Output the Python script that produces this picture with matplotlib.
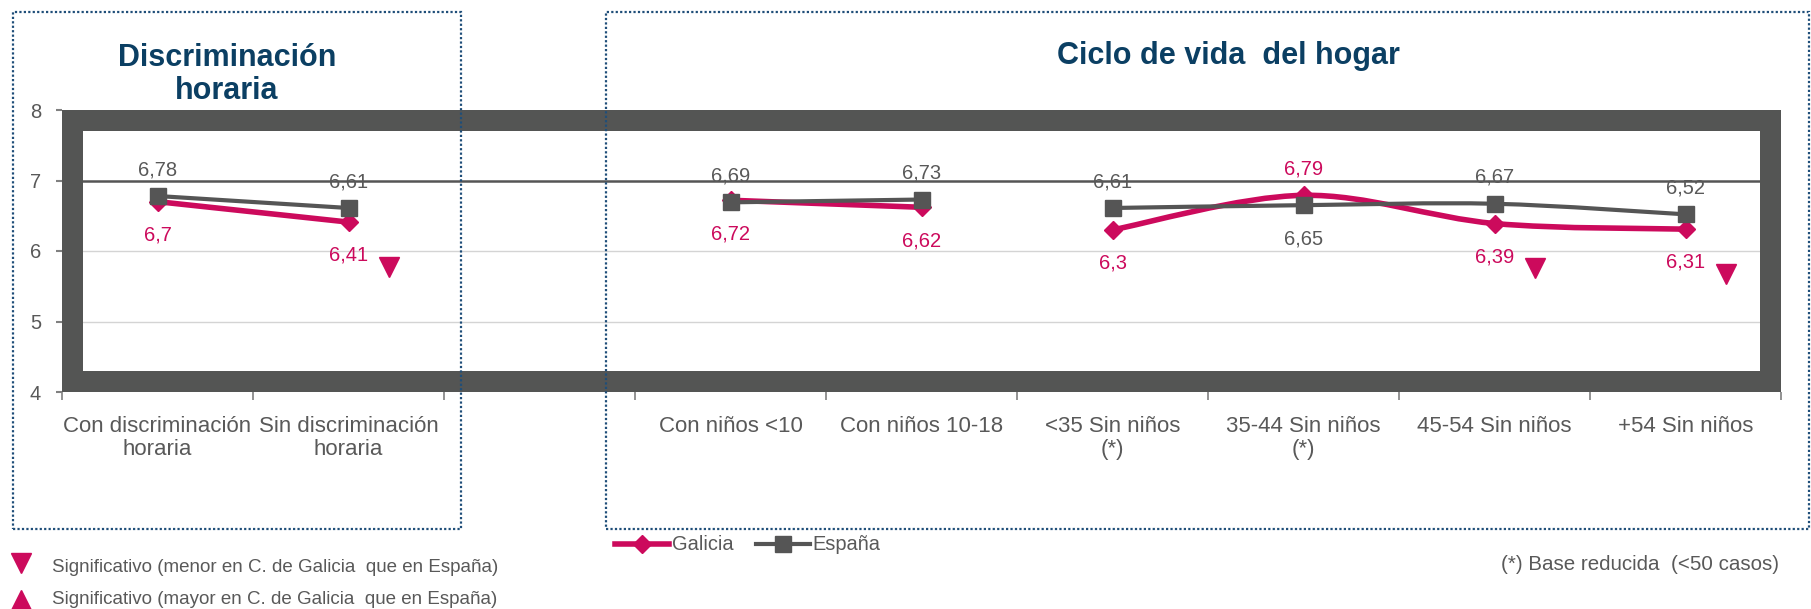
import numpy as np
import matplotlib.pyplot as plt
from matplotlib.path import Path
from matplotlib.patches import PathPatch, Rectangle
from matplotlib.lines import Line2D

plt.rcParams['font.family'] = ['Liberation Sans', 'DejaVu Sans']

# data
categories = ['Con discriminación\nhoraria', 'Sin discriminación\nhoraria', '',
              'Con niños <10', 'Con niños 10-18', '<35 Sin niños\n(*)',
              '35-44 Sin niños\n(*)', '45-54 Sin niños', '+54 Sin niños']
galicia = [6.70, 6.41, np.nan, 6.72, 6.62, 6.30, 6.79, 6.39, 6.31]
espana = [6.78, 6.61, np.nan, 6.69, 6.73, 6.61, 6.65, 6.67, 6.52]
segments = [(0, 2), (3, 5), (5, 9)]          # connected runs of categories
galicia_above = [False, False, False, False, False, False, True, False, False]
galicia_sig = ['', 'menor', '', '', '', '', '', 'menor', 'menor']
yticks = [4, 5, 6, 7, 8]

CRIMSON = '#cc0a5c'
GRAY = '#555555'
TXT = '#595959'
NAVY = '#0b3f63'

W, H = 1811, 609


def smooth_path(xs, ys):
    # Catmull-Rom style bezier, like the smoothed lines of a spreadsheet chart
    pts = np.column_stack([xs, ys])
    n = len(pts)
    verts = [pts[0]]
    codes = [Path.MOVETO]
    for i in range(n - 1):
        p0 = pts[i - 1] if i > 0 else pts[i]
        p1 = pts[i]
        p2 = pts[i + 1]
        p3 = pts[i + 2] if i + 2 < n else pts[i + 1]
        verts += [p1 + (p2 - p0) / 6, p2 - (p3 - p1) / 6, p2]
        codes += [Path.CURVE4] * 3
    return Path(verts, codes)


fig = plt.figure(figsize=(W / 100, H / 100), dpi=100)
ax = fig.add_axes([62 / W, 1 - 392 / H, 1719 / W, 282 / H])
x = np.arange(len(categories))
ax.set_xlim(-0.5, len(categories) - 0.5)
ax.set_ylim(4, 8)
for s in ax.spines.values():
    s.set_visible(False)

# gridlines
for v in [5, 6]:
    ax.axhline(v, color='#d4d4d4', lw=1, zorder=1)
ax.axhline(7, color=GRAY, lw=1.8, zorder=1)

# thick plot-area frame
tx, ty = 21 / 1719, 21 / 282
for r in [(0, 0, 1, ty), (0, 1 - ty, 1, ty), (0, 0, tx, 1), (1 - tx, 0, tx, 1)]:
    ax.add_patch(Rectangle(r[:2], r[2], r[3], transform=ax.transAxes,
                           facecolor='#545554', edgecolor='none', zorder=2, clip_on=False))

# series
for a, b in segments:
    xs = x[a:b]
    ax.add_patch(PathPatch(smooth_path(xs, galicia[a:b]), facecolor='none',
                           edgecolor=CRIMSON, lw=4, capstyle='round', zorder=3))
    ax.add_patch(PathPatch(smooth_path(xs, espana[a:b]), facecolor='none',
                           edgecolor=GRAY, lw=3, capstyle='round', zorder=4))
ax.plot(x, galicia, ls='none', marker='D', ms=9, color=CRIMSON, zorder=3)
ax.plot(x, espana, ls='none', marker='s', ms=12, color=GRAY, zorder=5)

# data labels
up, down = 19, -24
for i in x:
    if np.isnan(galicia[i]):
        continue
    g_up = galicia_above[i]
    ax.annotate(f'{galicia[i]:g}'.replace('.', ','), (i, galicia[i]),
                xytext=(0, up if g_up else down), textcoords='offset points',
                ha='center', va='center', fontsize=14.5, color=CRIMSON, zorder=6)
    ax.annotate(f'{espana[i]:g}'.replace('.', ','), (i, espana[i]),
                xytext=(0, down if g_up else up), textcoords='offset points',
                ha='center', va='center', fontsize=14.5, color=TXT, zorder=6)
    if galicia_sig[i] == 'menor':
        ax.annotate('', (i, galicia[i]))
        ax.plot([i], [galicia[i]], ls='none', marker='v', ms=14, color=CRIMSON,
                transform=ax.transData + plt.matplotlib.transforms.ScaledTranslation(
                    29 / 72, -32 / 72, fig.dpi_scale_trans), zorder=6)

# axes ticks
ax.set_yticks(yticks)
ax.set_yticklabels([str(t) for t in yticks], fontsize=14.5, color=TXT)
ax.tick_params(axis='y', length=4, width=1.5, color='#808080', pad=11)
ax.set_xticks(x)
ax.set_xticklabels(categories, fontsize=16, color=TXT, linespacing=1.15)
ax.tick_params(axis='x', length=0, pad=17)
ax.set_xticks(np.arange(len(categories) + 1) - 0.5, minor=True)
ax.tick_params(axis='x', which='minor', length=6, width=1.2, color='#808080')

# titles
fig.text(227 / W, 1 - 74.5 / H, 'Discriminación\nhoraria', ha='center', va='center',
         fontsize=22, fontweight='bold', color=NAVY, linespacing=1.1)
fig.text(1228 / W, 1 - 56 / H, 'Ciclo de vida  del hogar', ha='center', va='center',
         fontsize=22, fontweight='bold', color=NAVY)

# dotted group boxes
for x0, x1 in [(13, 461), (606, 1809)]:
    fig.patches.append(Rectangle((x0 / W, 1 - 529 / H), (x1 - x0) / W, (529 - 12) / H,
                                 transform=fig.transFigure, fill=False, edgecolor='#1f4e79',
                                 lw=1.6, ls=(0, (1, 1)), zorder=10))

# series legend
handles = [Line2D([], [], color=CRIMSON, lw=4, marker='D', ms=9),
           Line2D([], [], color=GRAY, lw=3, marker='s', ms=12)]
fig.legend(handles, ['Galicia', 'España'], loc='center left',
           bbox_to_anchor=(605 / W, 1 - 545 / H), ncol=2, frameon=False,
           fontsize=14.4, handlelength=2.7, handletextpad=0.15, columnspacing=1.1,
           borderpad=0, labelcolor=TXT)

# significance legend and footnote
fig.add_artist(Line2D([21 / W], [1 - 563 / H], marker='v', ms=14, color=CRIMSON, ls='none'))
fig.add_artist(Line2D([21 / W], [1 - 600 / H], marker='^', ms=14, color=CRIMSON, ls='none'))
fig.text(52 / W, 1 - 567 / H, 'Significativo (menor en C. de Galicia  que en España)',
         fontsize=13.5, color=TXT, va='center')
fig.text(52 / W, 1 - 600 / H, 'Significativo (mayor en C. de Galicia  que en España)',
         fontsize=13.5, color=TXT, va='center')
fig.text(1779 / W, 1 - 565 / H, '(*) Base reducida  (<50 casos)', fontsize=14.8,
         color=TXT, ha='right', va='center')

fig.savefig('out.png', dpi=100)
